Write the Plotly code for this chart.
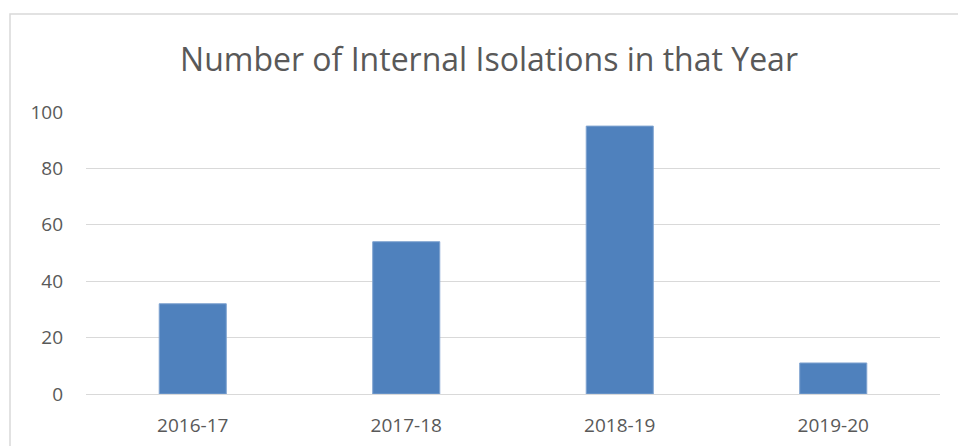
import plotly.graph_objects as go

categories = ["2016-17", "2017-18", "2018-19", "2019-20"]
values = [32, 54, 95, 11]
y_ticks = [0, 20, 40, 60, 80, 100]

W, H = 958, 446
L, R, T, B = 86, 18, 112, 52
pw, ph = W - L - R, H - T - B

fig = go.Figure()
fig.add_trace(go.Bar(
    x=categories, y=values,
    marker=dict(color="#4F81BD", line=dict(color="#7FA3D0", width=1)),
    width=0.314,
))

def px_to_paper_x(px):
    return (px - L) / pw

def px_to_paper_y(py):
    return 1 - (py - T) / ph

fig.add_shape(type="rect", xref="paper", yref="paper",
              x0=px_to_paper_x(10), x1=px_to_paper_x(1000),
              y0=px_to_paper_y(500), y1=px_to_paper_y(14),
              line=dict(color="#D9D9D9", width=1.5), fillcolor="rgba(0,0,0,0)",
              layer="below")

fig.update_layout(
    width=W, height=H,
    margin=dict(l=L, r=R, t=T, b=B, autoexpand=False),
    paper_bgcolor="white", plot_bgcolor="white",
    title=dict(text="Number of Internal Isolations in that Year",
               x=489 / W, xanchor="center", y=1 - 60 / H, yanchor="middle",
               font=dict(family="Open Sans", size=32, color="#595959")),
    font=dict(family="Open Sans", size=19, color="#595959"),
    showlegend=False,
)
fig.update_xaxes(showgrid=False, showline=False, ticks="", ticklabelstandoff=18,
                 automargin=False, tickfont=dict(size=19, color="#595959"))
fig.update_yaxes(range=[0, 100], tickvals=y_ticks, showgrid=True, gridcolor="#D9D9D9",
                 gridwidth=1, zeroline=True, zerolinecolor="#D9D9D9", zerolinewidth=1,
                 showline=False, ticks="", ticklabelstandoff=22, automargin=False,
                 tickfont=dict(size=19, color="#595959"))

fig.write_html("out.html", config={"displayModeBar": False},
               post_script="document.body.style.margin='0';document.body.style.overflow='hidden';")
